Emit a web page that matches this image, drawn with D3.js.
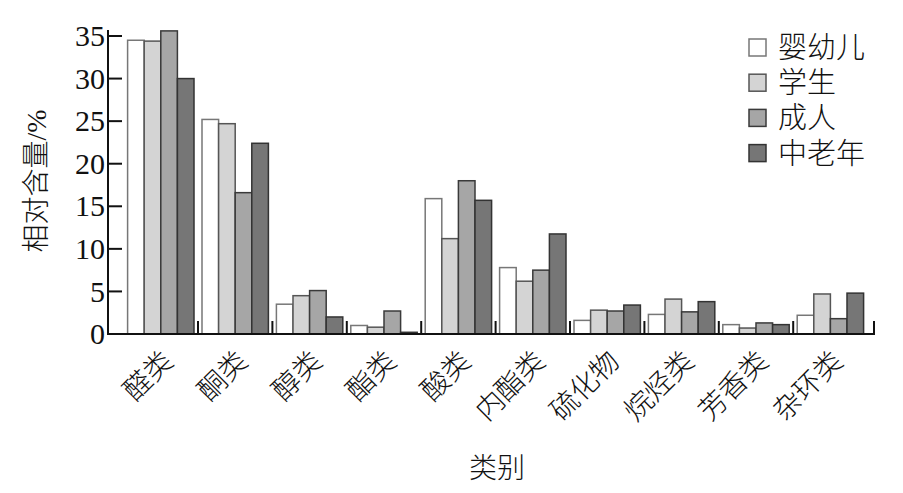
<!DOCTYPE html>
<html><head><meta charset="utf-8">
<script src="https://cdn.jsdelivr.net/npm/d3@7/dist/d3.min.js"></script>
<style>body{margin:0;background:#fff}text{font-family:"Liberation Serif","Noto Sans CJK SC",serif;fill:#111}text.cjk{font-weight:300}</style>
</head><body><svg id="c" width="903" height="493"></svg>
<script>
const categories = ["醛类","酮类","醇类","酯类","酸类","内酯类","硫化物","烷烃类","芳香类","杂环类"];
const seriesNames = ["婴幼儿","学生","成人","中老年"];
const infant = [34.5, 25.2, 3.5, 1.0, 15.9, 7.8, 1.6, 2.3, 1.1, 2.2];
const student = [34.4, 24.7, 4.5, 0.8, 11.2, 6.2, 2.8, 4.1, 0.7, 4.7];
const adult = [35.6, 16.6, 5.1, 2.7, 18.0, 7.5, 2.7, 2.6, 1.3, 1.8];
const elderly = [30.0, 22.4, 2.0, 0.2, 15.7, 11.75, 3.4, 3.8, 1.1, 4.8];
const yTicks = [0,5,10,15,20,25,30,35];
const fills = ["#ffffff","#d4d4d4","#a6a6a6","#767676"];
const strokes = ["#777","#555","#3a3a3a","#333"];
const seriesVals = [infant, student, adult, elderly];

const svg = d3.select("#c");
const y = d3.scaleLinear().domain([0,35]).range([334,36]);
const x = d3.scaleBand().domain(categories).range([123.6,867.6]).paddingInner(0).paddingOuter(0);
const xs = d3.scaleBand().domain(seriesNames).range([4, x.bandwidth()-4]).padding(0);

// bars
categories.forEach((c,i)=>{
  seriesNames.forEach((s,j)=>{
    const v = seriesVals[j][i];
    svg.append("rect")
      .attr("x", x(c)+xs(s))
      .attr("y", y(v))
      .attr("width", xs.bandwidth())
      .attr("height", y(0)-y(v))
      .attr("fill", fills[j])
      .attr("stroke", strokes[j])
      .attr("stroke-width", 1.5);
  });
});

// y axis
const ya = svg.append("g");
ya.append("line").attr("x1",108).attr("x2",108).attr("y1",335).attr("y2",30).attr("stroke","#111").attr("stroke-width",2);
yTicks.forEach(t=>{
  ya.append("line").attr("x1",108).attr("x2",122).attr("y1",y(t)).attr("y2",y(t)).attr("stroke","#111").attr("stroke-width",2);
  ya.append("text").attr("x",105).attr("y",y(t)).attr("dy","0.34em").attr("text-anchor","end")
    .style("font-size","30px").text(t);
});

// x axis
const xa = svg.append("g");
xa.append("line").attr("x1",107).attr("x2",875).attr("y1",334).attr("y2",334).attr("stroke","#111").attr("stroke-width",2);
categories.slice(1).forEach(c=>{
  xa.append("line").attr("x1",x(c)).attr("x2",x(c)).attr("y1",334).attr("y2",321).attr("stroke","#111").attr("stroke-width",2);
});
xa.append("line").attr("x1",874).attr("x2",874).attr("y1",334).attr("y2",321).attr("stroke","#111").attr("stroke-width",2);
categories.forEach(c=>{
  const cx = x(c)+x.bandwidth()/2, cy = 349;
  xa.append("text").attr("class","cjk").attr("transform",`translate(${cx},${cy}) rotate(-45)`)
    .attr("text-anchor","end").attr("dy","0.7em").style("font-size","28px").text(c);
});

// axis titles
svg.append("text").attr("class","cjk").attr("transform","translate(36,181) rotate(-90)").attr("text-anchor","middle")
  .attr("dy","0.35em").style("font-size","28px").text("相对含量/%");
svg.append("text").attr("class","cjk").attr("x",497).attr("y",478).attr("text-anchor","middle").style("font-size","28px").text("类别");

// legend
seriesNames.forEach((s,j)=>{
  const ly = 47.5 + j*35.2;
  svg.append("rect").attr("x",749).attr("y",ly-8.5).attr("width",17).attr("height",17)
    .attr("fill",fills[j]).attr("stroke",strokes[j]).attr("stroke-width",1.5);
  svg.append("text").attr("class","cjk").attr("x",778).attr("y",ly).attr("dy","0.36em").style("font-size","29px").text(s);
});
</script></body></html>
